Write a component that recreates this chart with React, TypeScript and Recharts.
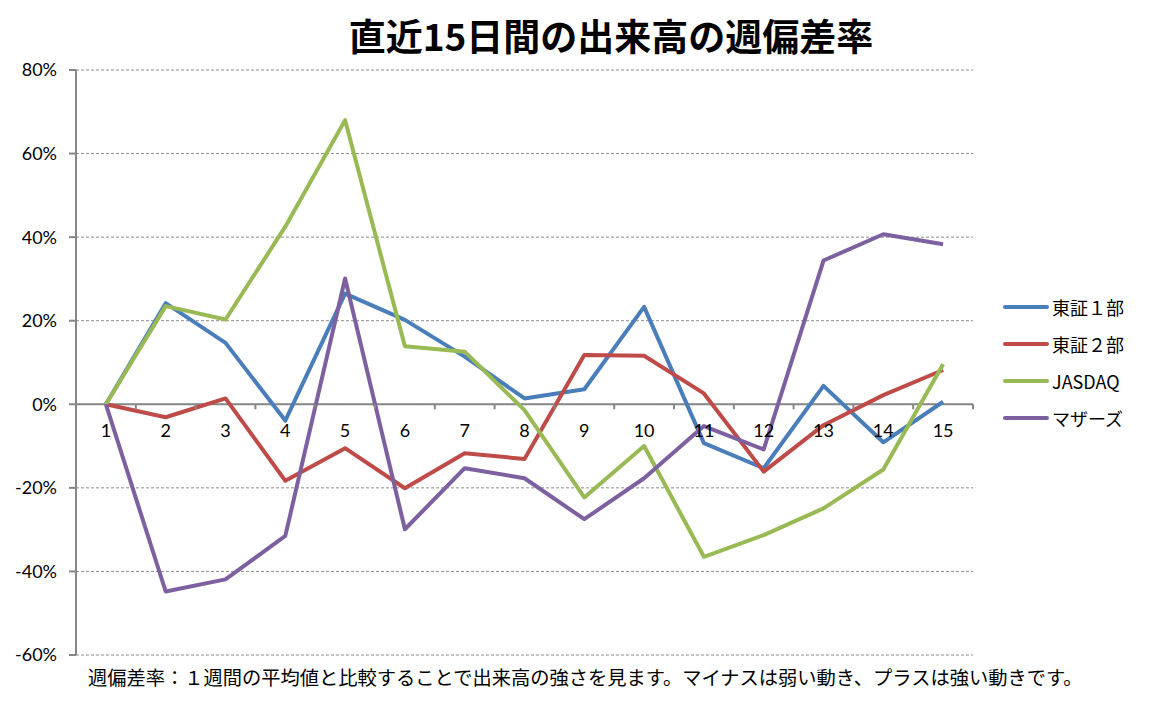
import React from 'react';
import {
  LineChart,
  Line,
  XAxis,
  YAxis,
  CartesianGrid,
  ReferenceLine,
} from 'recharts';

// Days 1..15
const days = ['1', '2', '3', '4', '5', '6', '7', '8', '9', '10', '11', '12', '13', '14', '15'];

// Weekly deviation (%)
const tse1 = [0, 24.2, 14.7, -3.9, 26.5, 20.2, 11.4, 1.4, 3.6, 23.3, -9.3, -15.3, 4.4, -9.1, 0.6];
const tse2 = [0, -3.1, 1.4, -18.3, -10.5, -20.1, -11.7, -13.1, 11.8, 11.6, 2.6, -16.1, -5.0, 2.2, 8.2];
const jasdaq = [0, 23.5, 20.3, 42.5, 68.0, 13.9, 12.6, -1.4, -22.3, -10.0, -36.5, -31.3, -24.9, -15.6, 9.6];
const mothers = [0, -44.8, -41.9, -31.5, 30.1, -29.9, -15.3, -17.7, -27.5, -17.7, -5.2, -10.8, 34.4, 40.7, 38.3];

const yTicks = [-60, -40, -20, 0, 20, 40, 60, 80];

const SERIES = [
  { key: 'tse1', name: '東証１部', color: '#4A7EBB' },
  { key: 'tse2', name: '東証２部', color: '#BE4B48' },
  { key: 'jasdaq', name: 'JASDAQ', color: '#98B954' },
  { key: 'mothers', name: 'マザーズ', color: '#7D60A0' },
];

const data = days.map((day, i) => ({
  day,
  tse1: tse1[i],
  tse2: tse2[i],
  jasdaq: jasdaq[i],
  mothers: mothers[i],
}));

// layout
const W = 1151;
const H = 702;
const TOP = 70;
const BOTTOM = 47;
const LEFT = 76;
const RIGHT = 178;
const Y_AXIS_W = 60;
const X_AXIS_H = 30;
const PLOT_W = W - LEFT - RIGHT;
const PLOT_H = H - TOP - BOTTOM;
const ZERO_Y = TOP + (PLOT_H * 80) / 140;
const HALF_BAND = PLOT_W / days.length / 2;

const NUM_FONT = 'Lato, "Open Sans", sans-serif';
const JP_FONT = '"Noto Sans CJK JP", "Noto Sans", sans-serif';

// x labels sit under the 0% line, tick marks at band edges
const DayTick = (props: any) => {
  const { x, payload, index } = props;
  const isLast = index === days.length - 1;
  return (
    <g>
      <line x1={x - HALF_BAND} x2={x - HALF_BAND} y1={ZERO_Y} y2={ZERO_Y + 5} stroke="#868686" strokeWidth={2} />
      {isLast && (
        <line x1={x + HALF_BAND} x2={x + HALF_BAND} y1={ZERO_Y} y2={ZERO_Y + 5} stroke="#868686" strokeWidth={2} />
      )}
      <text x={x} y={ZERO_Y + 33} textAnchor="middle" fontFamily={NUM_FONT} fontSize={18} fill="#000">
        {payload.value}
      </text>
    </g>
  );
};

export default function App() {
  return (
    <div style={{ position: 'absolute', left: 0, top: 0, width: W, height: H, background: '#fff' }}>
      <div
        style={{
          position: 'absolute',
          left: 0,
          top: 11,
          width: 1222,
          textAlign: 'center',
          fontFamily: JP_FONT,
          fontWeight: 700,
          fontSize: 37,
          lineHeight: '48px',
          color: '#000',
        }}
      >
        直近15日間の出来高の週偏差率
      </div>
      <LineChart
        width={W}
        height={H}
        data={data}
        margin={{ top: TOP, right: RIGHT, bottom: BOTTOM - X_AXIS_H, left: LEFT - Y_AXIS_W }}
      >
        <CartesianGrid vertical={false} stroke="#8c8c8c" strokeDasharray="3 2" strokeWidth={1} />
        <XAxis
          dataKey="day"
          height={X_AXIS_H}
          axisLine={false}
          tickLine={false}
          interval={0}
          padding={{ left: HALF_BAND, right: HALF_BAND }}
          tick={<DayTick />}
        />
        <YAxis
          width={Y_AXIS_W}
          domain={[-60, 80]}
          ticks={yTicks}
          interval={0}
          tickFormatter={(v: number) => `${v}%`}
          axisLine={{ stroke: '#868686', strokeWidth: 2 }}
          tickLine={{ stroke: '#868686', strokeWidth: 2 }}
          tickSize={7}
          tickMargin={12}
          tick={{ fill: '#000', fontSize: 18, fontFamily: NUM_FONT }}
        />
        <ReferenceLine y={0} stroke="#868686" strokeWidth={2} />
        {SERIES.map((s) => (
          <Line
            key={s.key}
            type="linear"
            dataKey={s.key}
            name={s.name}
            stroke={s.color}
            strokeWidth={4}
            strokeLinejoin="round"
            dot={false}
            activeDot={false}
            isAnimationActive={false}
          />
        ))}
      </LineChart>

      {/* legend, right of the plot */}
      <div style={{ position: 'absolute', left: 1003, top: 288, fontFamily: JP_FONT, fontSize: 18, color: '#000' }}>
        {SERIES.map((s) => (
          <div key={s.key} style={{ display: 'flex', alignItems: 'center', height: 37 }}>
            <svg width={46} height={8} style={{ marginRight: 3 }}>
              <line x1={2} x2={44} y1={4} y2={4} stroke={s.color} strokeWidth={4} strokeLinecap="round" />
            </svg>
            <span>{s.name}</span>
          </div>
        ))}
      </div>

      <div
        style={{
          position: 'absolute',
          left: 88,
          top: 663,
          fontFamily: JP_FONT,
          fontSize: 19.25,
          lineHeight: '28px',
          color: '#000',
          whiteSpace: 'nowrap',
        }}
      >
        週偏差率：１週間の平均値と比較することで出来高の強さを見ます。マイナスは弱い動き、プラスは強い動きです。
      </div>
    </div>
  );
}
